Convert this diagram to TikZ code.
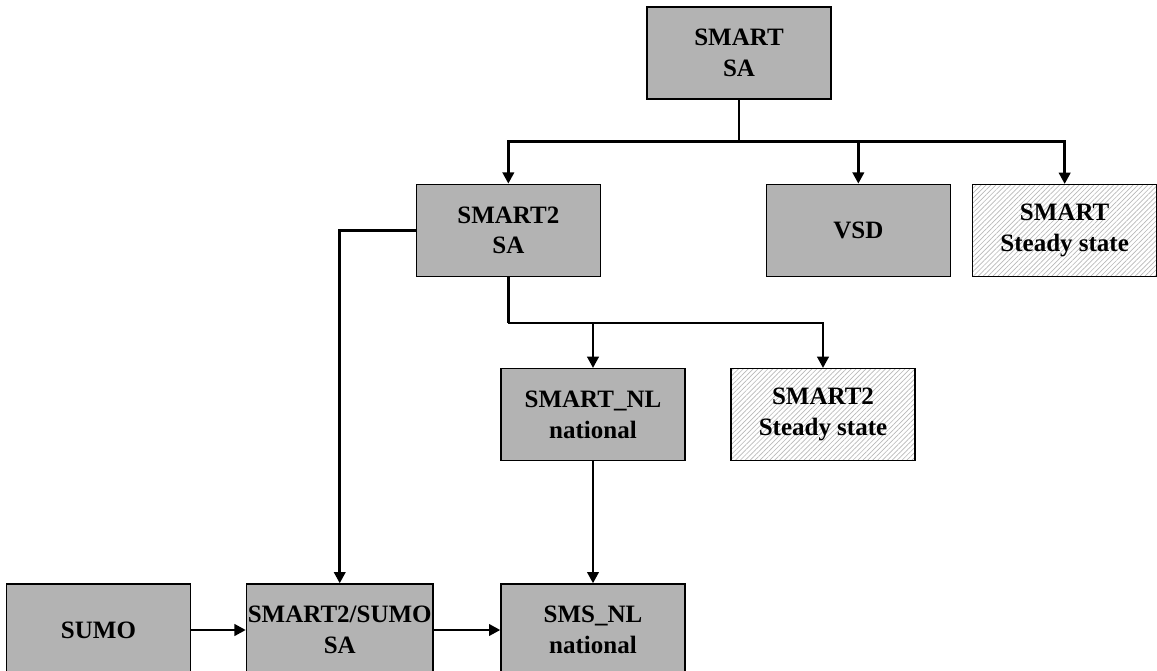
\documentclass[tikz,border=0pt]{standalone}
\usepackage{fontspec}
\setmainfont{Liberation Serif}
\usepackage{tikz}
\usetikzlibrary{arrows.meta,positioning,patterns.meta}
\usepackage{xcolor}
\definecolor{boxgray}{RGB}{179,179,179}
\definecolor{hatchgray}{RGB}{185,185,185}

\begin{document}
\begin{tikzpicture}[
    x=0.75pt, y=-0.75pt,
    block/.style={draw, line width=1pt, fill=boxgray, minimum width=138pt, minimum height=69pt, inner sep=1pt, align=center, font=\fontsize{18.75}{23}\selectfont\bfseries},
    hatched/.style={block, fill=none, preaction={fill=white}, pattern={Lines[angle=45,distance=2.6pt,line width=0.5pt]}, pattern color=hatchgray},
    link/.style={line width=2.2pt},
    arrow/.style={link, -{Triangle[length=8.5pt,width=8.5pt]}}
]
    \useasboundingbox (0,0) rectangle (1157,671);

    \node[block] (smart) at (739,53) {SMART\\SA};
    \node[block, below left=63pt and 34pt of smart] (smarttwo) {SMART2\\SA};
    \node[block, right=123.5pt of smarttwo] (vsd) {VSD};
    \node[hatched, right=16pt of vsd] (smartss) {SMART\\Steady state};

    \node[block, below=68.25pt of smarttwo, xshift=63.5pt] (smartnl) {SMART\_NL\\national};
    \node[hatched, right=33.5pt of smartnl] (smarttwoss) {SMART2\\Steady state};

    \node[block, below=91.5pt of smartnl] (smsnl) {SMS\_NL\\national};
    \node[block, left=50pt of smsnl] (sumosa) {SMART2/SUMO\\SA};
    \node[block, left=41pt of sumosa] (sumo) {SUMO};

    % tree below SMART SA
    \draw[link] (smart.south) -- ++(0,-31.5pt) coordinate (hub);
    \draw[arrow] (hub) -| (smarttwo.north);
    \draw[arrow] (hub) -| (vsd.north);
    \draw[arrow] (hub) -| (smartss.north);

    % tree below SMART2 SA
    \draw[link] (smarttwo.south) -- ++(0,-34.5pt) coordinate (fork);
    \draw[arrow] (fork) -| (smartnl.north);
    \draw[arrow] (fork) -| (smarttwoss.north);

    \draw[arrow] (smarttwo.west) -| (sumosa.north);
    \draw[arrow] (smartnl) -- (smsnl);
    \draw[arrow] (sumo) -- (sumosa);
    \draw[arrow] (sumosa) -- (smsnl);
\end{tikzpicture}
\end{document}
